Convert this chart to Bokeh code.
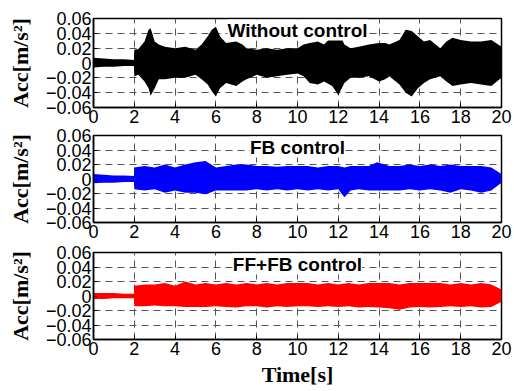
from bokeh.plotting import figure
from bokeh.layouts import column
from bokeh.models import FixedTicker, Label, Range1d
from bokeh.embed import file_html
from bokeh.resources import INLINE

# ---- data: response envelopes (upper / lower peaks) of the acceleration ----
t_wc = [0, 0.5, 1.0, 1.5, 1.98, 2.0, 2.2, 2.5, 2.7, 2.8, 3.0, 3.2, 3.5, 4.0, 4.5,
        5.0, 5.3, 5.6, 5.8, 6.0, 6.2, 6.5, 7.0, 7.3, 7.5, 8.0, 8.5, 9.0, 9.5, 10.0,
        10.3, 10.6, 11.0, 11.3, 11.7, 12.0, 12.3, 12.6, 13.0, 13.5, 14.0, 14.3, 14.5,
        15.0, 15.3, 15.6, 15.9, 16.2, 16.5, 17.0, 17.3, 17.6, 18.0, 18.5, 19.0, 19.5, 20.0]
up_wc = [0.007, 0.006, 0.005, 0.005, 0.004, 0.018, 0.019, 0.029, 0.045, 0.047,
         0.029, 0.025, 0.022, 0.020, 0.022, 0.018, 0.025, 0.036, 0.045, 0.049,
         0.036, 0.027, 0.029, 0.025, 0.020, 0.018, 0.020, 0.018, 0.020, 0.020,
         0.025, 0.027, 0.029, 0.025, 0.036, 0.043, 0.025, 0.020, 0.022, 0.025,
         0.027, 0.027, 0.025, 0.031, 0.045, 0.043, 0.036, 0.029, 0.031, 0.020,
         0.029, 0.034, 0.031, 0.029, 0.029, 0.031, 0.022]
lo_wc = [-0.006, -0.005, -0.005, -0.004, -0.004, -0.018, -0.016, -0.025, -0.034, -0.044,
         -0.034, -0.022, -0.022, -0.020, -0.020, -0.016, -0.022, -0.029, -0.038, -0.045,
         -0.034, -0.027, -0.031, -0.025, -0.022, -0.016, -0.020, -0.018, -0.016, -0.014,
         -0.018, -0.027, -0.029, -0.025, -0.031, -0.043, -0.027, -0.020, -0.020, -0.018,
         -0.025, -0.022, -0.018, -0.029, -0.040, -0.045, -0.034, -0.027, -0.022, -0.018,
         -0.025, -0.031, -0.029, -0.027, -0.029, -0.031, -0.020]

t_fb = [0, 0.5, 1.0, 1.5, 1.98, 2.0, 2.5, 3.0, 3.5, 4.0, 4.5, 5.0, 5.5, 6.0, 6.5,
        7.0, 7.5, 8.0, 8.5, 9.0, 9.5, 10.0, 10.5, 11.0, 11.5, 12.0, 12.3, 12.6, 13.0,
        13.5, 13.9, 14.5, 15.0, 15.5, 16.0, 16.5, 17.0, 17.5, 18.0, 18.5, 19.0, 19.5, 20.0]
up_fb = [0.007, 0.006, 0.005, 0.005, 0.004, 0.016, 0.018, 0.016, 0.020, 0.016,
         0.020, 0.023, 0.025, 0.016, 0.018, 0.020, 0.020, 0.018, 0.018, 0.017,
         0.018, 0.018, 0.018, 0.016, 0.018, 0.018, 0.016, 0.018, 0.018, 0.018,
         0.023, 0.018, 0.018, 0.020, 0.018, 0.020, 0.018, 0.020, 0.018, 0.018,
         0.018, 0.016, 0.007]
lo_fb = [-0.006, -0.005, -0.005, -0.004, -0.004, -0.014, -0.016, -0.014, -0.019, -0.016,
         -0.019, -0.019, -0.021, -0.016, -0.016, -0.016, -0.016, -0.014, -0.016, -0.014,
         -0.016, -0.014, -0.016, -0.014, -0.016, -0.014, -0.025, -0.016, -0.014, -0.016,
         -0.016, -0.016, -0.016, -0.014, -0.016, -0.014, -0.016, -0.019, -0.014, -0.016,
         -0.019, -0.016, -0.005]

t_ff = [0, 0.5, 1.0, 1.5, 1.98, 2.0, 2.5, 3.0, 3.5, 4.0, 4.5, 5.0, 5.5, 6.0, 6.5,
        7.0, 7.5, 8.0, 8.5, 9.0, 9.5, 10.0, 10.5, 11.0, 11.5, 12.0, 12.5, 13.0, 13.5,
        14.0, 14.5, 15.0, 15.5, 16.0, 16.5, 17.0, 17.5, 18.0, 18.5, 19.0, 19.5, 20.0]
up_ff = [0.004, 0.004, 0.004, 0.003, 0.003, 0.014, 0.016, 0.016, 0.018, 0.014,
         0.020, 0.016, 0.018, 0.016, 0.018, 0.016, 0.018, 0.016, 0.018, 0.016,
         0.018, 0.018, 0.018, 0.016, 0.018, 0.016, 0.018, 0.016, 0.018, 0.018,
         0.018, 0.016, 0.018, 0.018, 0.018, 0.018, 0.016, 0.018, 0.016, 0.018,
         0.016, 0.009]
lo_ff = [-0.004, -0.004, -0.003, -0.003, -0.003, -0.014, -0.014, -0.013, -0.014, -0.014,
         -0.015, -0.015, -0.015, -0.014, -0.015, -0.016, -0.014, -0.014, -0.016, -0.014,
         -0.015, -0.014, -0.014, -0.015, -0.014, -0.015, -0.014, -0.016, -0.015, -0.016,
         -0.017, -0.019, -0.016, -0.015, -0.016, -0.015, -0.014, -0.015, -0.014, -0.016,
         -0.015, -0.008]

panel_titles = ["Without control", "FB control", "FF+FB control"]
panel_colors = ["#000000", "#0000FF", "#FF0000"]

x_ticks = [0, 2, 4, 6, 8, 10, 12, 14, 16, 18, 20]
y_ticks = [-0.06, -0.04, -0.02, 0.0, 0.02, 0.04, 0.06]
y_tick_labels = ["\u22120.06", "\u22120.04", "\u22120.02", "0", "0.02", "0.04", "0.06"]

TICK_FONT = "Liberation Sans"
LABEL_FONT = "Liberation Serif"


def make_panel(t, up, lo, title, color, top, bottom, frame_h, show_xlabel, margin_top):
    p = figure(frame_width=408, frame_height=frame_h,
               min_border_left=93, min_border_right=13,
               min_border_top=top, min_border_bottom=bottom,
               x_range=Range1d(0, 20), y_range=Range1d(-0.06, 0.06),
               output_backend="svg", toolbar_location=None,
               margin=(margin_top, 0, 0, 0))
    p.background_fill_color = "white"
    # transparent border so stacked panels can share the space between frames
    p.border_fill_color = None
    p.outline_line_color = "black"
    p.outline_line_width = 1.5
    p.outline_line_alpha = 1.0

    p.varea(x=t, y1=lo, y2=up, fill_color=color)

    for ax in (p.xaxis[0], p.yaxis[0]):
        ax.axis_line_color = "black"
        ax.axis_line_width = 1.5
        ax.major_tick_in = 4
        ax.major_tick_out = 0
        ax.minor_tick_in = 0
        ax.minor_tick_out = 0
        ax.major_tick_line_color = "black"
        ax.major_label_text_font = TICK_FONT
        ax.major_label_text_font_size = "18px"
        ax.major_label_text_color = "black"
        ax.major_label_standoff = 2

    p.xaxis.ticker = FixedTicker(ticks=x_ticks)
    p.yaxis.ticker = FixedTicker(ticks=y_ticks)
    p.yaxis.major_label_overrides = dict(zip(y_ticks, y_tick_labels))

    p.yaxis.axis_label = "Acc[m/s\u00b2]"
    p.yaxis.axis_label_text_font = LABEL_FONT
    p.yaxis.axis_label_text_font_style = "bold"
    p.yaxis.axis_label_text_font_size = "22px"
    p.yaxis.axis_label_standoff = 10
    p.yaxis.axis_label_text_color = "black"

    if show_xlabel:
        p.xaxis.axis_label = "Time[s]"
        p.xaxis.axis_label_text_font = LABEL_FONT
        p.xaxis.axis_label_text_font_style = "bold"
        p.xaxis.axis_label_text_font_size = "22px"
        p.xaxis.axis_label_standoff = 4
        p.xaxis.axis_label_text_color = "black"

    p.xgrid.ticker = FixedTicker(ticks=x_ticks)
    p.ygrid.ticker = FixedTicker(ticks=y_ticks)
    p.grid.grid_line_color = "#555555"
    p.grid.grid_line_width = 1
    p.grid.grid_line_dash = "7 5"
    p.grid.level = "underlay"

    p.add_layout(Label(x=10, y=0.06, text=title, text_align="center",
                       text_baseline="top", text_font=TICK_FONT,
                       text_font_style="bold", text_font_size="19px",
                       text_color="black", y_offset=-1,
                       background_fill_color="white", padding=0))
    return p


# frames: 18-107, 135-222, 252-339 (pixels from the top of the page)
p1 = make_panel(t_wc, up_wc, lo_wc, panel_titles[0], panel_colors[0], 18, 34, 89, False, 0)
p2 = make_panel(t_fb, up_fb, lo_fb, panel_titles[1], panel_colors[1], 12, 34, 87, False,
                -(34 + 12 - 28))
p3 = make_panel(t_ff, up_ff, lo_ff, panel_titles[2], panel_colors[2], 12, 52, 87, True,
                -(34 + 12 - 30))

layout = column(p1, p2, p3, spacing=0)

open("out.html", "w").write(file_html(layout, INLINE))
